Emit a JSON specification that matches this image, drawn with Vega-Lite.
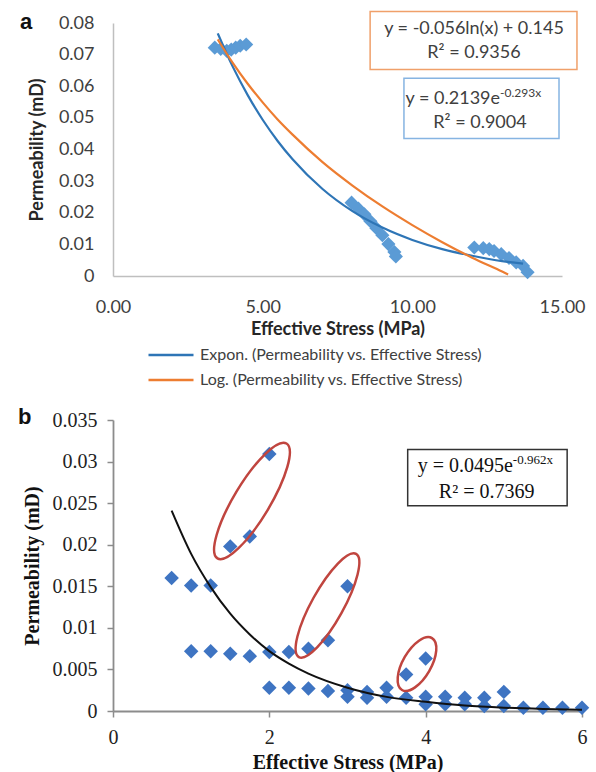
{
  "$schema": "https://vega.github.io/schema/vega-lite/v6.json",
  "background": "white",
  "padding": {"left": 18, "top": 10, "right": 2, "bottom": 0},
  "spacing": 67,
  "config": {"view": {"stroke": null}},
  "datasets": {
    "ptsA": [
      {"x": 3.40, "y": 0.0722}, {"x": 3.60, "y": 0.0718}, {"x": 3.80, "y": 0.0712}, {"x": 3.95, "y": 0.0716}, {"x": 4.10, "y": 0.0722}, {"x": 4.25, "y": 0.0728}, {"x": 4.45, "y": 0.0732},
      {"x": 7.97, "y": 0.0232}, {"x": 8.20, "y": 0.0213}, {"x": 8.40, "y": 0.0195}, {"x": 8.60, "y": 0.0173}, {"x": 8.80, "y": 0.0151}, {"x": 9.00, "y": 0.0129}, {"x": 9.20, "y": 0.0101}, {"x": 9.40, "y": 0.0076}, {"x": 9.45, "y": 0.0062},
      {"x": 12.07, "y": 0.0090}, {"x": 12.37, "y": 0.0088}, {"x": 12.57, "y": 0.0085}, {"x": 12.73, "y": 0.0079}, {"x": 12.97, "y": 0.0069}, {"x": 13.23, "y": 0.0057}, {"x": 13.47, "y": 0.0043}, {"x": 13.70, "y": 0.0032}, {"x": 13.85, "y": 0.0012}
    ],
    "fitsA": [
      {"series": "Expon. (Permeability vs. Effective Stress)", "x": 3.5, "y": 0.0767},
      {"series": "Expon. (Permeability vs. Effective Stress)", "x": 4.0, "y": 0.0662},
      {"series": "Expon. (Permeability vs. Effective Stress)", "x": 4.5, "y": 0.0572},
      {"series": "Expon. (Permeability vs. Effective Stress)", "x": 5.0, "y": 0.0494},
      {"series": "Expon. (Permeability vs. Effective Stress)", "x": 5.5, "y": 0.0427},
      {"series": "Expon. (Permeability vs. Effective Stress)", "x": 6.0, "y": 0.0369},
      {"series": "Expon. (Permeability vs. Effective Stress)", "x": 7.0, "y": 0.0275},
      {"series": "Expon. (Permeability vs. Effective Stress)", "x": 8.0, "y": 0.0205},
      {"series": "Expon. (Permeability vs. Effective Stress)", "x": 9.0, "y": 0.0153},
      {"series": "Expon. (Permeability vs. Effective Stress)", "x": 10.0, "y": 0.0114},
      {"series": "Expon. (Permeability vs. Effective Stress)", "x": 11.0, "y": 0.0085},
      {"series": "Expon. (Permeability vs. Effective Stress)", "x": 12.0, "y": 0.0064},
      {"series": "Expon. (Permeability vs. Effective Stress)", "x": 13.0, "y": 0.0047},
      {"series": "Expon. (Permeability vs. Effective Stress)", "x": 13.7, "y": 0.0039},
      {"series": "Log. (Permeability vs. Effective Stress)", "x": 3.5, "y": 0.0748},
      {"series": "Log. (Permeability vs. Effective Stress)", "x": 4.0, "y": 0.0674},
      {"series": "Log. (Permeability vs. Effective Stress)", "x": 4.5, "y": 0.0608},
      {"series": "Log. (Permeability vs. Effective Stress)", "x": 5.0, "y": 0.0549},
      {"series": "Log. (Permeability vs. Effective Stress)", "x": 5.5, "y": 0.0495},
      {"series": "Log. (Permeability vs. Effective Stress)", "x": 6.0, "y": 0.0447},
      {"series": "Log. (Permeability vs. Effective Stress)", "x": 7.0, "y": 0.0360},
      {"series": "Log. (Permeability vs. Effective Stress)", "x": 8.0, "y": 0.0286},
      {"series": "Log. (Permeability vs. Effective Stress)", "x": 9.0, "y": 0.0220},
      {"series": "Log. (Permeability vs. Effective Stress)", "x": 10.0, "y": 0.0161},
      {"series": "Log. (Permeability vs. Effective Stress)", "x": 11.0, "y": 0.0107},
      {"series": "Log. (Permeability vs. Effective Stress)", "x": 12.0, "y": 0.0058},
      {"series": "Log. (Permeability vs. Effective Stress)", "x": 13.0, "y": 0.0014},
      {"series": "Log. (Permeability vs. Effective Stress)", "x": 13.2, "y": 0.0005}
    ],
    "ptsB": [
      {"x": 0.75, "y": 0.0160}, {"x": 1.0, "y": 0.0151}, {"x": 1.25, "y": 0.0151},
      {"x": 1.0, "y": 0.0072}, {"x": 1.25, "y": 0.0072}, {"x": 1.5, "y": 0.0069}, {"x": 1.75, "y": 0.0066}, {"x": 2.0, "y": 0.0071}, {"x": 2.25, "y": 0.0071}, {"x": 2.5, "y": 0.0075}, {"x": 2.75, "y": 0.0085},
      {"x": 1.5, "y": 0.0198}, {"x": 1.75, "y": 0.0210}, {"x": 2.0, "y": 0.0309},
      {"x": 3.0, "y": 0.0150},
      {"x": 3.75, "y": 0.0044}, {"x": 4.0, "y": 0.0063},
      {"x": 2.0, "y": 0.0028}, {"x": 2.25, "y": 0.0028}, {"x": 2.5, "y": 0.0027}, {"x": 2.75, "y": 0.0024},
      {"x": 3.0, "y": 0.0025}, {"x": 3.0, "y": 0.0017}, {"x": 3.25, "y": 0.0023}, {"x": 3.25, "y": 0.0016},
      {"x": 3.5, "y": 0.0028}, {"x": 3.5, "y": 0.0017}, {"x": 3.75, "y": 0.0016},
      {"x": 4.0, "y": 0.0017}, {"x": 4.0, "y": 0.0008}, {"x": 4.25, "y": 0.0017}, {"x": 4.25, "y": 0.0008},
      {"x": 4.5, "y": 0.0016}, {"x": 4.5, "y": 0.0008}, {"x": 4.75, "y": 0.0016}, {"x": 4.75, "y": 0.0006},
      {"x": 5.0, "y": 0.0023}, {"x": 5.0, "y": 0.0006}, {"x": 5.25, "y": 0.0004}, {"x": 5.5, "y": 0.0004}, {"x": 5.75, "y": 0.0004}, {"x": 6.0, "y": 0.0004}
    ],
    "fitB": [
      {"x": 0.75, "y": 0.0241}, {"x": 1.0, "y": 0.0189}, {"x": 1.25, "y": 0.0149}, {"x": 1.5, "y": 0.0117}, {"x": 1.75, "y": 0.0092}, {"x": 2.0, "y": 0.0072}, {"x": 2.25, "y": 0.0057}, {"x": 2.5, "y": 0.0045}, {"x": 3.0, "y": 0.0028}, {"x": 3.5, "y": 0.0017}, {"x": 4.0, "y": 0.0011}, {"x": 4.5, "y": 0.00065}, {"x": 5.0, "y": 0.0004}, {"x": 5.5, "y": 0.00025}, {"x": 6.0, "y": 0.00015}
    ]
  },
  "vconcat": [
    {
      "width": 449,
      "height": 253,
      "encoding": {
        "x": {"field": "x", "type": "quantitative", "scale": {"domain": [0, 15], "nice": false, "zero": false},
          "axis": {"title": "Effective Stress (MPa)", "values": [0, 5, 10, 15], "format": ".2f", "grid": false, "ticks": false, "tickSize": 0, "labelFlush": false,
            "domainColor": "#bfbfbf", "domainWidth": 1.5, "labelFont": "Lato", "labelFontSize": 18, "labelColor": "#404040", "labelPadding": 22,
            "titleFont": "Lato", "titleFontSize": 18, "titleFontWeight": "bold", "titleColor": "#262626", "titlePadding": 4}},
        "y": {"field": "y", "type": "quantitative", "scale": {"domain": [0, 0.08], "nice": false, "zero": false},
          "axis": {"title": "Permeability (mD)", "values": [0, 0.01, 0.02, 0.03, 0.04, 0.05, 0.06, 0.07, 0.08], "format": ".2~f", "grid": false, "ticks": false, "tickSize": 0,
            "domainColor": "#bfbfbf", "domainWidth": 1.5, "labelFont": "Lato", "labelFontSize": 18, "labelColor": "#404040", "labelPadding": 19,
            "titleFont": "Lato", "titleFontSize": 18, "titleFontWeight": "bold", "titleColor": "#262626", "titlePadding": 12}}
      },
      "layer": [
        {"data": {"name": "ptsA"}, "mark": {"type": "point", "shape": "diamond", "filled": true, "size": 200, "color": "#5B9BD5", "opacity": 1}},
        {"data": {"name": "fitsA"}, "mark": {"type": "line", "strokeWidth": 2.2, "interpolate": "monotone"},
          "encoding": {"color": {"field": "series", "type": "nominal",
            "scale": {"domain": ["Expon. (Permeability vs. Effective Stress)", "Log. (Permeability vs. Effective Stress)"], "range": ["#2E75B6", "#ED7D31"]},
            "legend": {"orient": "none", "legendX": 49, "legendY": 323, "title": null, "padding": 0, "symbolType": "M -3 0 L 3 0", "symbolSize": 225, "symbolStrokeWidth": 2.5,
              "labelOffset": 20, "labelFont": "Lato", "labelFontSize": 16, "labelColor": "#404040", "rowPadding": 8, "labelLimit": 500}}}},
        {"data": {"values": [{"x": 8.59, "x2": 15.5, "y": 0.0836, "y2": 0.0653}]}, "mark": {"type": "rect", "fill": "white", "stroke": "#F0A06A", "strokeWidth": 1.5},
          "encoding": {"x2": {"field": "x2"}, "y2": {"field": "y2"}}},
        {"data": {"values": [{"x": 9.72, "x2": 14.9, "y": 0.0625, "y2": 0.0435}]}, "mark": {"type": "rect", "fill": "white", "stroke": "#86B4E2", "strokeWidth": 1.5},
          "encoding": {"x2": {"field": "x2"}, "y2": {"field": "y2"}}},
        {"data": {"values": [{"x": 12.06, "y": 0.07826, "t": "y = -0.056ln(x) + 0.145"}, {"x": 12.06, "y": 0.07037, "t": "R² = 0.9356"}, {"x": 12.26, "y": 0.04828, "t": "R² = 0.9004"}]},
          "mark": {"type": "text", "align": "center", "baseline": "middle", "font": "Lato", "fontSize": 18, "color": "#404040"},
          "encoding": {"text": {"field": "t"}}},
        {"data": {"values": [{"x": 12.93, "y": 0.05585, "t": "y = 0.2139e"}]},
          "mark": {"type": "text", "align": "right", "baseline": "middle", "font": "Lato", "fontSize": 18, "color": "#404040"},
          "encoding": {"text": {"field": "t"}}},
        {"data": {"values": [{"x": 12.93, "y": 0.05585, "t": "-0.293x"}]},
          "mark": {"type": "text", "align": "left", "baseline": "middle", "dy": -6, "font": "Lato", "fontSize": 12, "color": "#404040"},
          "encoding": {"text": {"field": "t"}}},
        {"data": {"values": [{"x": -3.107, "y": 0.0802, "t": "a"}]},
          "mark": {"type": "text", "align": "left", "baseline": "middle", "font": "Liberation Sans", "fontSize": 22, "fontWeight": "bold", "color": "#111111"},
          "encoding": {"text": {"field": "t"}}}
      ]
    },
    {
      "width": 469,
      "height": 291,
      "encoding": {
        "x": {"field": "x", "type": "quantitative", "scale": {"domain": [0, 6], "nice": false, "zero": false},
          "axis": {"title": "Effective Stress (MPa)", "values": [0, 2, 4, 6], "format": "d", "grid": false, "ticks": true, "tickSize": 6, "tickColor": "#8c8c8c", "tickWidth": 1.5, "labelFlush": false,
            "domainColor": "#8c8c8c", "domainWidth": 1.8, "labelFont": "Liberation Serif", "labelFontSize": 20, "labelColor": "#222222", "labelPadding": 10,
            "titleFont": "Liberation Serif", "titleFontSize": 20, "titleFontWeight": "bold", "titleColor": "#111111", "titlePadding": 5}},
        "y": {"field": "y", "type": "quantitative", "scale": {"domain": [0, 0.035], "nice": false, "zero": false},
          "axis": {"title": "Permeability (mD)", "values": [0, 0.005, 0.01, 0.015, 0.02, 0.025, 0.03, 0.035], "format": ".3~f", "grid": false, "ticks": true, "tickSize": 6, "tickColor": "#8c8c8c", "tickWidth": 1.5,
            "domainColor": "#8c8c8c", "domainWidth": 1.8, "labelFont": "Liberation Serif", "labelFontSize": 20, "labelColor": "#222222", "labelPadding": 10,
            "titleFont": "Liberation Serif", "titleFontSize": 20, "titleFontWeight": "bold", "titleColor": "#111111", "titlePadding": 10}}
      },
      "layer": [
        {"data": {"name": "ptsB"}, "mark": {"type": "point", "shape": "diamond", "filled": true, "size": 210, "color": "#3E74C2", "opacity": 1}},
        {"data": {"name": "fitB"}, "mark": {"type": "line", "strokeWidth": 2, "color": "#111111", "interpolate": "monotone"}},
        {"data": {"values": [{"x": 1.778, "y": 0.02526}]}, "mark": {"type": "point", "shape": "M -1 0 A 1 0.27 0 1 0 1 0 A 1 0.27 0 1 0 -1 0 Z", "size": 17956, "angle": 301, "filled": false, "stroke": "#C0453F", "strokeWidth": 2.5, "opacity": 1}},
        {"data": {"values": [{"x": 2.744, "y": 0.01269}]}, "mark": {"type": "point", "shape": "M -1 0 A 1 0.27 0 1 0 1 0 A 1 0.27 0 1 0 -1 0 Z", "size": 13924, "angle": 299, "filled": false, "stroke": "#C0453F", "strokeWidth": 2.5, "opacity": 1}},
        {"data": {"values": [{"x": 3.889, "y": 0.00565}]}, "mark": {"type": "point", "shape": "M -1 0 A 1 0.47 0 1 0 1 0 A 1 0.47 0 1 0 -1 0 Z", "size": 3600, "angle": 300, "filled": false, "stroke": "#C0453F", "strokeWidth": 2.5, "opacity": 1}},
        {"data": {"values": [{"x": 3.77, "x2": 5.81, "y": 0.03145, "y2": 0.0247}]}, "mark": {"type": "rect", "fill": "white", "stroke": "#333333", "strokeWidth": 1.5},
          "encoding": {"x2": {"field": "x2"}, "y2": {"field": "y2"}}},
        {"data": {"values": [{"x": 5.115, "y": 0.0295, "t": "y = 0.0495e"}]},
          "mark": {"type": "text", "align": "right", "baseline": "middle", "font": "Liberation Serif", "fontSize": 20, "color": "#111111"},
          "encoding": {"text": {"field": "t"}}},
        {"data": {"values": [{"x": 5.115, "y": 0.0295, "t": "-0.962x"}]},
          "mark": {"type": "text", "align": "left", "baseline": "middle", "dy": -6, "font": "Liberation Serif", "fontSize": 13, "color": "#111111"},
          "encoding": {"text": {"field": "t"}}},
        {"data": {"values": [{"x": 4.78, "y": 0.0264, "t": "R² = 0.7369"}]},
          "mark": {"type": "text", "align": "center", "baseline": "middle", "font": "Liberation Serif", "fontSize": 20, "color": "#111111"},
          "encoding": {"text": {"field": "t"}}},
        {"data": {"values": [{"x": -1.215, "y": 0.0354, "t": "b"}]},
          "mark": {"type": "text", "align": "left", "baseline": "middle", "font": "Liberation Sans", "fontSize": 22, "fontWeight": "bold", "color": "#111111"},
          "encoding": {"text": {"field": "t"}}}
      ]
    }
  ]
}
